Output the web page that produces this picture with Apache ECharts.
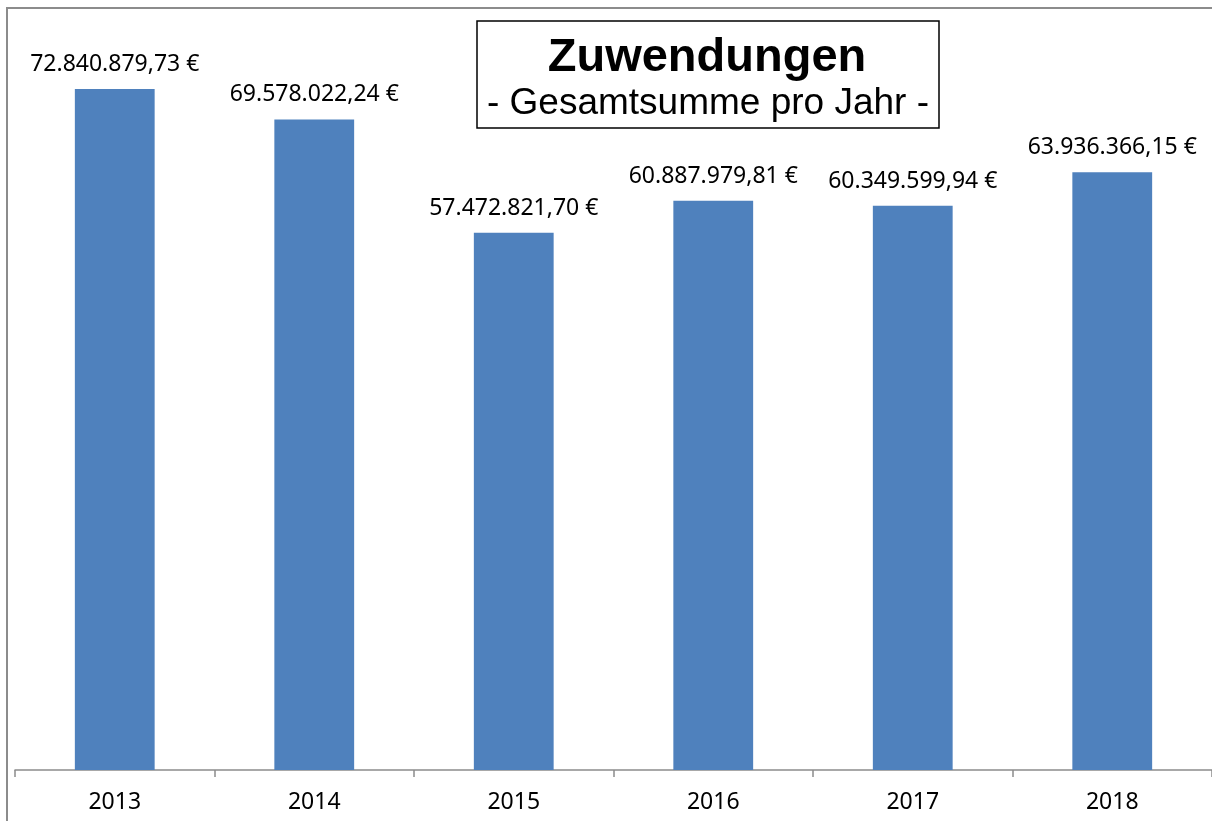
<!DOCTYPE html>
<html>
<head>
<meta charset="utf-8">
<script src="https://cdn.jsdelivr.net/npm/echarts@6/dist/echarts.min.js"></script>
<style>
    html, body { margin: 0; padding: 0; background: #fff; }
    #chart { width: 1212px; height: 821px; }
</style>
</head>
<body>
<div id="chart"></div>
<script>
// Jahre und Summen
var years = ['2013', '2014', '2015', '2016', '2017', '2018'];
var amounts = [72840879.73, 69578022.24, 57472821.70, 60887979.81, 60349599.94, 63936366.15];

function fmtEuro(v) {
    var parts = v.toFixed(2).split('.');
    var intPart = parts[0].replace(/\B(?=(\d{3})+(?!\d))/g, '.');
    return intPart + ',' + parts[1] + ' €';
}

var chart = echarts.init(document.getElementById('chart'));
var option = {
    animation: false,
    graphic: [{
        type: 'rect',
        shape: { x: 7, y: 8, width: 1220, height: 830 },
        style: { fill: 'none', stroke: '#8c8c8c', lineWidth: 2 },
        z: 0
    }, {
        type: 'rect',
        shape: { x: 477, y: 21, width: 462, height: 107 },
        style: { fill: '#fff', stroke: '#000', lineWidth: 1.5 },
        z: 10
    }, {
        type: 'text',
        x: 707, y: 58,
        style: {
            text: 'Zuwendungen',
            font: 'bold 47px "Liberation Sans", Arial',
            fill: '#000',
            align: 'center',
            verticalAlign: 'middle'
        },
        z: 11
    }, {
        type: 'text',
        x: 708, y: 104,
        style: {
            text: '- Gesamtsumme pro Jahr -',
            font: '37px "Liberation Sans", Arial',
            fill: '#000',
            align: 'center',
            verticalAlign: 'middle'
        },
        z: 11
    }],
    grid: {
        left: 15,
        right: -3,
        top: 22,
        bottom: 51,
        containLabel: false
    },
    xAxis: {
        type: 'category',
        data: years,
        axisLine: { lineStyle: { color: '#8c8c8c', width: 1.5 } },
        axisTick: { show: true, length: 7, lineStyle: { color: '#8c8c8c', width: 1.5 } },
        axisLabel: {
            color: '#000',
            fontSize: 23,
            fontFamily: 'Noto Sans',
            margin: 21
        }
    },
    yAxis: {
        type: 'value',
        min: 0,
        max: 80000000,
        show: false,
        splitLine: { show: false }
    },
    series: [{
        type: 'bar',
        data: amounts,
        barWidth: '40%',
        itemStyle: { color: '#4f81bd' },
        label: {
            show: true,
            position: 'top',
            distance: 13,
            color: '#000',
            fontSize: 23,
            fontFamily: 'Noto Sans',
            formatter: function(p) { return fmtEuro(p.value); }
        }
    }]
};
chart.setOption(option);
</script>
</body>
</html>
